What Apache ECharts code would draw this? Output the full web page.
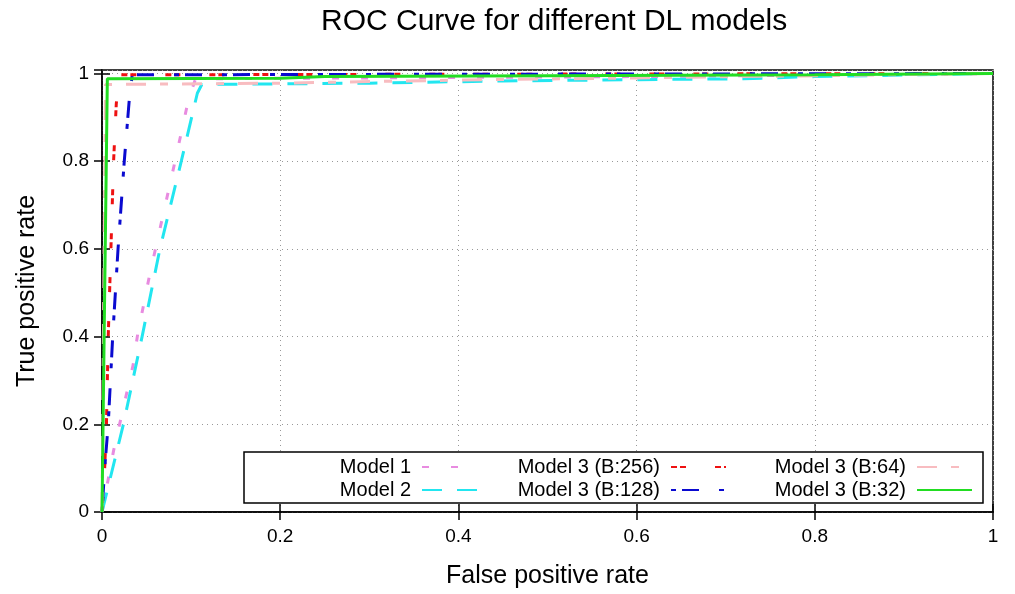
<!DOCTYPE html>
<html>
<head>
<meta charset="utf-8">
<script src="https://cdn.jsdelivr.net/npm/echarts@6/dist/echarts.min.js"></script>
<style>
  html, body { margin: 0; padding: 0; background: #fff; }
  #roc { width: 1015px; height: 594px; }
</style>
</head>
<body>
<div id="roc"></div>
<script>
// ROC points (false positive rate / true positive rate)
const fprModel1 = [0, 0.006, 0.013, 0.035, 0.040, 0.053, 0.082, 0.097, 0.105, 0.3, 0.6, 1];
const tprModel1 = [0, 0.064, 0.14, 0.336, 0.405, 0.536, 0.80, 0.94, 0.988, 0.99, 0.993, 1];

const fprModel2 = [0, 0.006, 0.024, 0.045, 0.065, 0.089, 0.107, 0.112, 0.3, 0.45, 0.6, 0.72, 0.8, 1];
const tprModel2 = [0, 0.05, 0.2, 0.4, 0.6, 0.8, 0.955, 0.975, 0.978, 0.983, 0.986, 0.988, 0.993, 1];

const fprB256 = [0, 0.003, 0.005, 0.007, 0.010, 0.013, 0.016, 0.019, 0.3, 1];
const tprB256 = [0, 0.1, 0.2, 0.4, 0.6, 0.8, 0.93, 0.997, 0.998, 1];

const fprB128 = [0, 0.003, 0.007, 0.012, 0.018, 0.025, 0.031, 0.034, 0.3, 1];
const tprB128 = [0, 0.1, 0.2, 0.4, 0.6, 0.8, 0.95, 0.997, 0.998, 1];

const fprB64 = [0, 0.002, 0.004, 0.2, 0.4, 0.6, 1];
const tprB64 = [0, 0.5, 0.975, 0.978, 0.985, 0.99, 1];

const fprB32 = [0, 0.003, 0.006, 0.2, 0.25, 0.5, 0.8, 1];
const tprB32 = [0, 0.5, 0.988, 0.989, 0.993, 0.995, 0.997, 1];

const xTicks = [0, 0.2, 0.4, 0.6, 0.8, 1];

const zip = (xs, ys) => xs.map((x, i) => [x, ys[i]]);

let chart = echarts.init(document.getElementById('roc'));

const font = "'Liberation Sans', 'DejaVu Sans', sans-serif";

function curve(name, xs, ys, color, dash, width) {
    return {
        name: name,
        type: 'line',
        data: zip(xs, ys),
        symbol: 'none',
        lineStyle: { color: color, width: width, type: dash },
        itemStyle: { color: color }
    };
}

// gnuplot style key column: text on the left, line sample on the right
function legendCol(items, right) {
    return {
        data: items,
        orient: 'vertical',
        align: 'right',
        right: right,
        top: 452,
        itemWidth: 55,
        itemHeight: 14,
        itemGap: 3,
        selectedMode: false,
        z: 60,
        itemStyle: { opacity: 0 },
        textStyle: { fontSize: 20, color: '#000', fontFamily: font, padding: [0, 6, 0, 0] }
    };
}

chart.setOption({
    animation: false,
    textStyle: { fontFamily: font },
    title: {
        text: 'ROC Curve for different DL models',
        left: 316,
        top: 2,
        textStyle: { fontSize: 30, fontWeight: 'normal', color: '#000', fontFamily: font }
    },
    grid: {
        left: 102, right: 22, top: 70, bottom: 81,
        show: true, borderColor: '#000', borderWidth: 1.5
    },
    legend: [
        legendCol(['Model 1', 'Model 2'], 532),
        legendCol(['Model 3 (B:256)', 'Model 3 (B:128)'], 283),
        legendCol(['Model 3 (B:64)', 'Model 3 (B:32)'], 37)
    ],
    graphic: [{
        type: 'rect',
        z: 50,
        shape: { x: 244, y: 452, width: 739, height: 51 },
        style: { fill: '#fff', stroke: '#000', lineWidth: 1.5 }
    }],
    xAxis: [{
        type: 'value', min: xTicks[0], max: xTicks[xTicks.length - 1], interval: 0.2,
        name: 'False positive rate', nameLocation: 'middle', nameGap: 52,
        nameTextStyle: { fontSize: 25, color: '#000' },
        axisLine: { lineStyle: { color: '#000', width: 1.5 } },
        axisTick: { inside: true, length: 8, lineStyle: { color: '#000', width: 1.5 } },
        axisLabel: { fontSize: 19, color: '#000', margin: 15 },
        splitLine: { show: true, lineStyle: { color: '#999', width: 1, type: [1, 4] } }
    }, {
        type: 'value', position: 'top', min: 0, max: 1, interval: 0.2,
        axisLine: { show: false },
        axisTick: { inside: true, length: 8, lineStyle: { color: '#000', width: 1.5 } },
        axisLabel: { show: false },
        splitLine: { show: false }
    }],
    yAxis: [{
        type: 'value', min: 0, max: 1.008, interval: 0.2,
        name: 'True positive rate', nameLocation: 'middle', nameGap: 62,
        nameTextStyle: { fontSize: 25, color: '#000' },
        axisLine: { show: true, lineStyle: { color: '#000', width: 1.5 } },
        axisTick: { inside: true, length: 8, lineStyle: { color: '#000', width: 1.5 } },
        axisLabel: { fontSize: 19, color: '#000', margin: 13, showMaxLabel: false },
        splitLine: { show: true, lineStyle: { color: '#999', width: 1, type: [1, 4] } }
    }, {
        type: 'value', position: 'right', min: 0, max: 1.008, interval: 0.2,
        axisLine: { show: false },
        axisTick: { inside: true, length: 8, lineStyle: { color: '#000', width: 1.5 } },
        axisLabel: { show: false },
        splitLine: { show: false }
    }],
    series: [
        curve('Model 1', fprModel1, tprModel1, '#e88be0', [7, 22], 3),
        curve('Model 2', fprModel2, tprModel2, '#22e6f0', [20, 15], 3),
        curve('Model 3 (B:256)', fprB256, tprB256, '#ee1111', [6, 3, 6, 29], 3),
        curve('Model 3 (B:128)', fprB128, tprB128, '#0a0ad0', [5, 6, 17, 20], 3),
        curve('Model 3 (B:64)', fprB64, tprB64, '#f8bcc0', [20, 14, 8, 14], 3),
        curve('Model 3 (B:32)', fprB32, tprB32, '#22dd22', 'solid', 3)
    ]
});
</script>
</body>
</html>
